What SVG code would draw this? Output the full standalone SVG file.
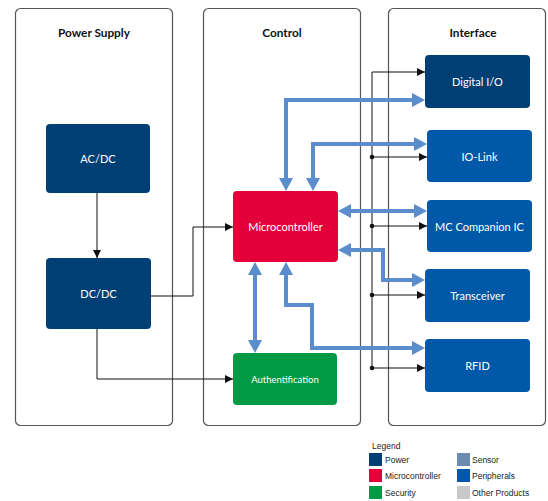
<svg xmlns="http://www.w3.org/2000/svg" width="548" height="501" viewBox="0 0 548 501">
<style>
.panel{fill:#fff;stroke:#555;stroke-width:1.2}
.title{font-family:Lato,"Liberation Sans",sans-serif;font-weight:bold;font-size:11.8px;fill:#111;text-anchor:middle}
.lbl{font-family:Lato,"Liberation Sans",sans-serif;font-size:11px;fill:#fff;text-anchor:middle;dominant-baseline:central}
.power{fill:#003F74}
.mc{fill:#E4003A}
.sec{fill:#009A44}
.per{fill:#0058A9}
.sens{fill:#6B8CB0}
.other{fill:#C8C8C8}
.blk{fill:none;stroke:#111;stroke-width:1;marker-end:url(#ah)}
.blue{fill:none;stroke:#5B8CCB;stroke-width:4;marker-start:url(#bh);marker-end:url(#bh)}
.leg{font-family:"Liberation Sans",Arial,sans-serif;font-size:8.5px;fill:#222}
</style>
<defs>
<marker id="ah" viewBox="0 0 8 8" refX="8" refY="4" markerWidth="8" markerHeight="8" markerUnits="userSpaceOnUse" orient="auto"><path d="M0,0 L8,4 L0,8 z" fill="#111"/></marker>
<marker id="bh" viewBox="0 0 13 14" refX="9" refY="7" markerWidth="13" markerHeight="14" markerUnits="userSpaceOnUse" orient="auto-start-reverse"><path d="M0,0 L13,7 L0,14 z" fill="#5B8CCB"/></marker>
</defs>

<g id="panel-power"><rect class="panel" x="15.5" y="8.5" width="157" height="417" rx="5"/><text class="title" x="94" y="37">Power Supply</text></g>
<g id="panel-control"><rect class="panel" x="203.5" y="8.5" width="157" height="417" rx="5"/><text class="title" x="282" y="37">Control</text></g>
<g id="panel-interface"><rect class="panel" x="388.5" y="8.5" width="157" height="417" rx="5"/><text class="title" x="473" y="37">Interface</text></g>

<g id="connectors">
<path class="blk" d="M97,193 V258"/>
<path class="blk" d="M151,296 H193 V227 H233"/>
<path class="blk" d="M97,329 V379 H233"/>
<path class="blk" d="M372,368 V72 H425"/>
<path class="blk" d="M372,157 H427"/>
<path class="blk" d="M372,226 H427"/>
<path class="blk" d="M372,295 H425"/>
<path class="blk" d="M372,368 H425"/>
<g fill="#111"><circle cx="372" cy="157" r="2.3"/><circle cx="372" cy="226" r="2.3"/><circle cx="372" cy="295" r="2.3"/><circle cx="372" cy="368" r="2.3"/></g>
<path class="blue" d="M286,187 V100 H421"/>
<path class="blue" d="M313,187 V144 H423"/>
<path class="blue" d="M342,211 H423"/>
<path class="blue" d="M342,250 H383 V280 H421"/>
<path class="blue" d="M286,266 V305 H312 V348 H421"/>
<path class="blue" d="M255,266 V349"/>
</g>

<g id="node-acdc"><rect class="power" x="46" y="124" width="104" height="69" rx="4"/><text class="lbl" x="98" y="158.5">AC/DC</text></g>
<g id="node-dcdc"><rect class="power" x="46" y="258" width="105" height="71" rx="4"/><text class="lbl" x="98.5" y="293.5">DC/DC</text></g>
<g id="node-micro"><rect class="mc" x="233" y="191" width="105" height="71" rx="4"/><text class="lbl" x="285.5" y="226.5">Microcontroller</text></g>
<g id="node-auth"><rect class="sec" x="233" y="353" width="104" height="52" rx="4"/><text class="lbl" x="285" y="379" style="font-size:9.5px">Authentification</text></g>
<g id="node-dio"><rect class="power" x="425" y="55" width="105" height="53" rx="4"/><text class="lbl" x="477.5" y="81.5">Digital I/O</text></g>
<g id="node-iolink"><rect class="per" x="427" y="130" width="105" height="52" rx="4"/><text class="lbl" x="479.5" y="156">IO-Link</text></g>
<g id="node-mccomp"><rect class="per" x="427" y="200" width="105" height="52" rx="4"/><text class="lbl" x="479.5" y="226">MC Companion IC</text></g>
<g id="node-trans"><rect class="per" x="425" y="269" width="105" height="53" rx="4"/><text class="lbl" x="477.5" y="295.5">Transceiver</text></g>
<g id="node-rfid"><rect class="per" x="425" y="339" width="105" height="53" rx="4"/><text class="lbl" x="477.5" y="365.5">RFID</text></g>

<g id="legend">
<text class="leg" x="372" y="449">Legend</text>
<rect class="power" x="369" y="453" width="13" height="13"/><text class="leg" x="385" y="463">Power</text>
<rect class="mc" x="369" y="469" width="13" height="13"/><text class="leg" x="385" y="479">Microcontroller</text>
<rect class="sec" x="369" y="486" width="13" height="13"/><text class="leg" x="385" y="496">Security</text>
<rect class="sens" x="457" y="453" width="13" height="13"/><text class="leg" x="472" y="463">Sensor</text>
<rect class="per" x="457" y="469" width="13" height="13"/><text class="leg" x="472" y="479">Peripherals</text>
<rect class="other" x="457" y="486" width="13" height="13"/><text class="leg" x="472" y="496">Other Products</text>
</g>
</svg>
